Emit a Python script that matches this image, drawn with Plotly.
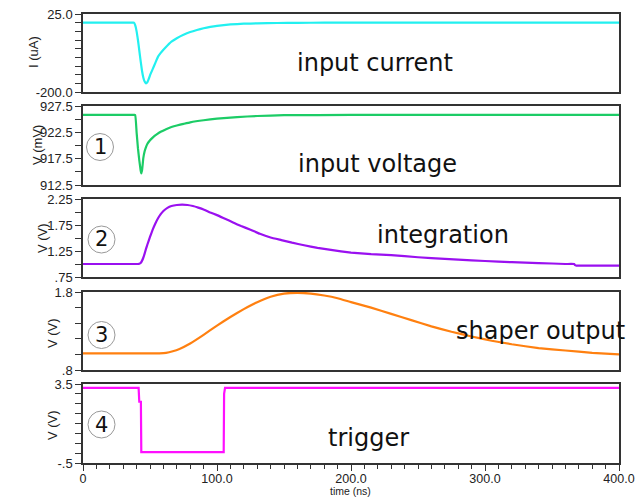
import plotly.graph_objects as go

# ---------------- data ----------------
t_current = [0, 10, 20, 30, 35, 37, 38, 39, 40, 41, 42, 43, 44, 45, 46, 47, 48, 49, 50, 52, 54, 56, 58, 60, 63, 66, 70,
             75, 80, 85, 90, 95, 100, 110, 120, 130, 145, 160, 180, 220, 300, 400]
i_current = [0, 0, 0, 0, 0, 0, 0, -8, -25, -50, -80, -110, -138, -158, -170, -175, -172, -163, -152, -134, -116, -98,
             -87, -78, -66, -55, -45, -35, -27, -21, -16, -12, -9, -5, -3, -2, -1, -0.5, 0, 0, 0, 0]

t_voltage = [0, 10, 20, 30, 35, 38, 39, 40, 41, 42, 43, 43.5, 44, 44.5, 45, 46, 47, 48, 50, 52, 55, 58, 62, 66, 70, 75,
             80, 90, 100, 115, 130, 150, 200, 300, 400]
v_voltage = [925.8, 925.8, 925.8, 925.8, 925.8, 925.8, 925.8, 922.5, 919.5, 917.2, 915.3, 914.7, 915.2, 916.3, 917.6,
             918.9, 919.7, 920.3, 921.0, 921.5, 922.1, 922.6, 923.1, 923.5, 923.8, 924.1, 924.4, 924.8, 925.1, 925.4,
             925.6, 925.75, 925.8, 925.8, 925.8]

t_integ = [0, 10, 20, 30, 36, 39, 41, 42, 43, 44, 45, 46, 47, 48, 50, 52, 54, 56, 58, 60, 63, 66, 70, 74, 78, 82, 86,
           90, 95, 100, 106, 112, 118, 125, 132, 140, 148, 156, 165, 175, 185, 200, 215, 230, 250, 270, 290, 310, 330,
           350, 360, 366.5, 367, 368, 369, 380, 400]
v_integ = [1.0, 1.0, 1.0, 1.0, 1.0, 1.0, 1.0, 1.005, 1.02, 1.06, 1.12, 1.2, 1.29, 1.37, 1.52, 1.66, 1.78, 1.88, 1.96,
           2.02, 2.08, 2.115, 2.135, 2.14, 2.135, 2.115, 2.085, 2.05, 1.99, 1.94, 1.87, 1.80, 1.73, 1.66, 1.58, 1.51,
           1.46, 1.41, 1.36, 1.31, 1.27, 1.22, 1.19, 1.17, 1.13, 1.10, 1.07, 1.045, 1.025, 1.01, 1.0, 1.0, 0.985,
           0.97, 0.97, 0.97, 0.97]

t_shaper = [0, 10, 20, 30, 40, 50, 55, 57, 62, 67, 72, 80, 90, 100, 110, 120, 130, 140, 150, 160, 170, 180, 190, 200,
            215, 230, 245, 260, 275, 290, 305, 320, 340, 360, 380, 400]
v_shaper = [1.014, 1.014, 1.014, 1.014, 1.014, 1.014, 1.014, 1.014, 1.02, 1.04, 1.07, 1.14, 1.25, 1.37, 1.48, 1.58,
            1.67, 1.74, 1.78, 1.79, 1.78, 1.755, 1.72, 1.67, 1.6, 1.52, 1.44, 1.36, 1.29, 1.23, 1.175, 1.13, 1.08,
            1.05, 1.02, 1.0]

t_trigger = [0, 41.5, 42, 43.2, 43.5, 105, 105.3, 106, 400]
v_trigger = [3.3, 3.3, 2.6, 2.6, 0.05, 0.05, 3.0, 3.3, 3.3]

panel_labels = ["input current", "input voltage", "integration", "shaper output", "trigger"]
y_titles = ["I (uA)", "V (mV)", "V (V)", "V (V)", "V (V)"]
x_title = "time (ns)"
circle_labels = ["1", "2", "3", "4"]

y_ranges = [[-200, 25], [912.5, 927.5], [0.75, 2.25], [0.8, 1.8], [-0.5, 3.5]]
y_tickvals = [
    [25, 0, -25, -50, -75, -100, -125, -150, -175, -200],
    [927.5, 925, 922.5, 920, 917.5, 915, 912.5],
    [2.25, 2.0, 1.75, 1.5, 1.25, 1.0, 0.75],
    [1.8, 1.6, 1.4, 1.2, 1.0, 0.8],
    [3.5, 3.0, 2.5, 2.0, 1.5, 1.0, 0.5, 0.0, -0.5],
]
y_ticktext = [
    ["25.0", "", "", "", "", "", "", "", "", "-200.0"],
    ["927.5", "", "922.5", "", "917.5", "", "912.5"],
    ["2.25", "", "1.75", "", "1.25", "", ".75"],
    ["1.8", "", "", "", "", ".8"],
    ["3.5", "", "", "", "", "", "", "", "-.5"],
]
x_tickvals = [0, 100, 200, 300, 400]
x_ticktext = ["0", "100.0", "200.0", "300.0", "400.0"]

colors = ["#22f0f0", "#1ccc66", "#9a10f0", "#ff8010", "#ff10ff"]
series = [(t_current, i_current), (t_voltage, v_voltage), (t_integ, v_integ),
          (t_shaper, v_shaper), (t_trigger, v_trigger)]

# ---------------- geometry (pixels) ----------------
W, H = 641, 499
L, R, T, B = 83, 22, 14, 36
PW, PH = W - L - R, H - T - B
panel_px = [(14, 92), (106, 185), (199, 277), (292, 370), (384, 463)]


def py2paper(py):
    return (H - B - py) / PH


def px2paper(px):
    return (px - L) / PW


fig = go.Figure()
axis_font = dict(family="Liberation Sans, Arial, sans-serif", size=13, color="#222")
line_col = "#333333"

for k in range(5):
    n = "" if k == 0 else str(k + 1)
    xa = "x" + n
    ya = "y" + n
    tx, vy = series[k]
    if k != 4:
        ln = dict(color=colors[k], width=2.2, shape="spline", smoothing=0.3)
    else:
        ln = dict(color=colors[k], width=2.2)
    fig.add_trace(go.Scatter(x=tx, y=vy, mode="lines", line=ln,
                             xaxis=xa, yaxis=ya, showlegend=False, hoverinfo="skip"))
    top, bot = panel_px[k]
    dom = [py2paper(bot), py2paper(top)]
    xdict = dict(domain=[0, 1], range=[0, 400], anchor=ya, showgrid=False, zeroline=False,
                 showline=True, mirror=True, linecolor=line_col, linewidth=1.5)
    if k == 4:
        xdict.update(tickvals=x_tickvals, ticktext=x_ticktext, ticks="outside", ticklen=6,
                     ticklabelstandoff=-3,
                     tickcolor=line_col, tickfont=dict(family="Liberation Sans, Arial, sans-serif", size=12.5, color="#222"),
                     minor=dict(dtick=10, ticks="outside", ticklen=4, tickcolor=line_col))
    else:
        xdict.update(showticklabels=False, ticks="")
        xdict["matches"] = "x5"
    ydict = dict(domain=dom, range=y_ranges[k], anchor=xa, showgrid=False, zeroline=False,
                 showline=True, mirror=True, linecolor=line_col, linewidth=1.5,
                 tickvals=y_tickvals[k], ticktext=y_ticktext[k], ticks="outside", ticklen=6,
                 tickcolor=line_col, tickfont=axis_font)
    fig.layout["xaxis" + n] = xdict
    fig.layout["yaxis" + n] = ydict

annotations = []
# big panel labels
label_pos = [(375, 63), (377, 164), (443, 235), (540, 331), (368, 438)]
for txt, (px, py) in zip(panel_labels, label_pos):
    annotations.append(dict(text=txt, x=px2paper(px), y=py2paper(py), xref="paper", yref="paper",
                            xanchor="center", yanchor="middle", showarrow=False,
                            font=dict(family="DejaVu Sans", size=24, color="#111")))
# y titles
ytitle_pos = [(33, 52), (37, 145), (42, 238), (52, 333), (52, 425)]
for txt, (px, py) in zip(y_titles, ytitle_pos):
    annotations.append(dict(text=txt, x=px2paper(px), y=py2paper(py), xref="paper", yref="paper",
                            xanchor="center", yanchor="middle", showarrow=False, textangle=-90,
                            font=dict(family="Liberation Sans, Arial, sans-serif", size=13, color="#222")))
# x title
annotations.append(dict(text=x_title, x=px2paper(350), y=py2paper(498.5), xref="paper", yref="paper",
                        xanchor="center", yanchor="bottom", showarrow=False, borderpad=0,
                        font=dict(family="Liberation Sans, Arial, sans-serif", size=10.5, color="#222")))
# circled numbers
circle_pos = [(100, 147), (101.5, 239.5), (101.5, 335), (101.5, 424.5)]
shapes = []
for txt, (px, py) in zip(circle_labels, circle_pos):
    annotations.append(dict(text=txt, x=px2paper(px), y=py2paper(py), xref="paper", yref="paper",
                            xanchor="center", yanchor="middle", showarrow=False,
                            font=dict(family="DejaVu Sans", size=21, color="#111")))
    shapes.append(dict(type="circle", xref="paper", yref="paper", xsizemode="pixel", ysizemode="pixel",
                       xanchor=px2paper(px), yanchor=py2paper(py), x0=-13.5, x1=13.5, y0=-13.5, y1=13.5,
                       line=dict(color="#999999", width=1)))

fig.update_layout(width=W, height=H, margin=dict(l=L, r=R, t=T, b=B, autoexpand=False),
                  paper_bgcolor="white", plot_bgcolor="white",
                  annotations=annotations, shapes=shapes)

fig.write_html("out.html")
